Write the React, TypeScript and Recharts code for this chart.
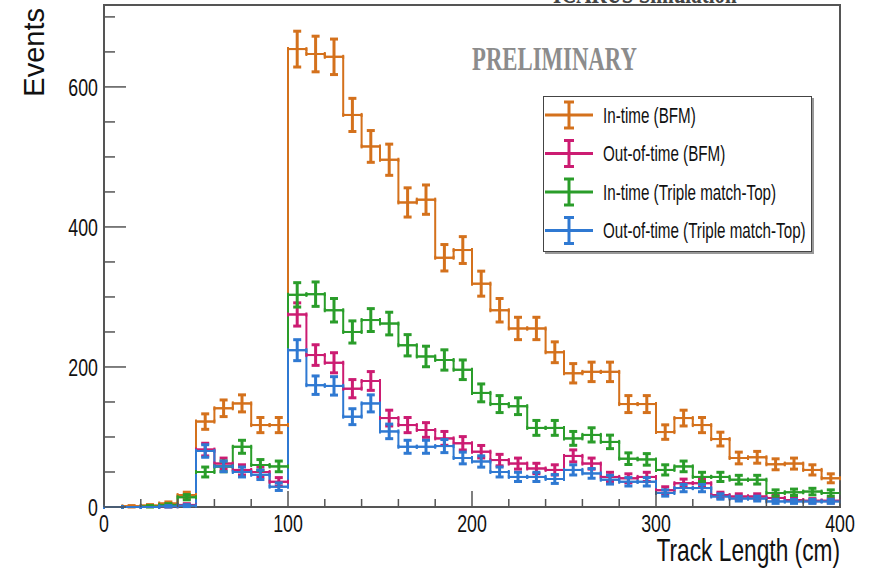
import React from 'react';
import { ComposedChart, Line, Scatter, ErrorBar, XAxis, YAxis, Legend, ReferenceArea } from 'recharts';

// ---- data (bins of 10 cm) ----
const binLowEdges = [0, 10, 20, 30, 40, 50, 60, 70, 80, 90, 100, 110, 120, 130, 140, 150, 160, 170, 180, 190, 200, 210, 220, 230, 240, 250, 260, 270, 280, 290, 300, 310, 320, 330, 340, 350, 360, 370, 380, 390];
const BIN_WIDTH = 10;

const inTimeBFM = [0, 1, 2, 5, 17, 122, 141, 148, 117, 117, 654, 647, 643, 560, 515, 496, 435, 439, 356, 367, 319, 281, 255, 255, 221, 191, 193, 193, 147, 147, 107, 127, 117, 97, 70, 71, 61, 62, 53, 41];
const outOfTimeBFM = [0, 0, 0, 1, 3, 82, 62, 53, 50, 36, 275, 217, 206, 169, 180, 127, 117, 110, 98, 91, 79, 67, 62, 55, 53, 73, 62, 43, 41, 43, 24, 34, 34, 17, 15, 15, 13, 10, 9, 9];
const inTimeTriple = [0, 0, 1, 3, 14, 50, 58, 86, 60, 58, 303, 304, 281, 250, 267, 262, 231, 215, 210, 196, 163, 147, 144, 113, 113, 98, 103, 93, 69, 68, 53, 58, 43, 43, 39, 39, 20, 21, 22, 20];
const outOfTimeTriple = [0, 0, 0, 1, 2, 80, 58, 50, 46, 29, 224, 174, 173, 129, 148, 108, 86, 86, 87, 70, 65, 50, 43, 43, 40, 53, 48, 39, 36, 36, 20, 27, 27, 15, 12, 12, 8, 8, 8, 8];

const seriesNames = ['In-time (BFM)', 'Out-of-time (BFM)', 'In-time (Triple match-Top)', 'Out-of-time (Triple match-Top)'];
const seriesValues = [inTimeBFM, outOfTimeBFM, inTimeTriple, outOfTimeTriple];
const seriesColors = ['#d4711c', '#cc1c72', '#2a9d2a', '#2f79d2'];

const xTicks = [0, 20, 40, 60, 80, 100, 120, 140, 160, 180, 200, 220, 240, 260, 280, 300, 320, 340, 360, 380, 400];
const xTickLabels = [0, 100, 200, 300, 400];
const yTicks = [0, 50, 100, 150, 200, 250, 300, 350, 400, 450, 500, 550, 600, 650, 700];
const yTickLabels = [0, 200, 400, 600];
const X_DOMAIN = [0, 400];
const Y_DOMAIN = [0, 717];

const xTitle = 'Track Length (cm)';
const yTitle = 'Events';
const watermark = 'PRELIMINARY';
const topText = 'ICARUS Simulation';

// ---- layout ----
const W = 871;
const H = 571;
const PLOT_LEFT = 104;
const PLOT_RIGHT = 840;
const PLOT_TOP = 5;
const PLOT_BOTTOM = 507;
const FRAME = '#555';
const FONT = "'Liberation Sans', Arial, Helvetica, sans-serif";

const stepData = (vals: number[]) => [
  ...binLowEdges.map((x, i) => ({ x, y: vals[i] })),
  { x: binLowEdges[binLowEdges.length - 1] + BIN_WIDTH, y: vals[vals.length - 1] },
];
const pointData = (vals: number[]) =>
  binLowEdges.map((x, i) => ({ x: x + BIN_WIDTH / 2, y: vals[i], ex: BIN_WIDTH / 2, ey: Math.sqrt(vals[i]) }));

const YTick = (props: any) => {
  const { y, payload } = props;
  const v = payload.value;
  const major = yTickLabels.includes(v);
  return (
    <g>
      <line x1={PLOT_LEFT} x2={PLOT_LEFT + (major ? 22 : 11)} y1={y} y2={y} stroke={FRAME} strokeWidth={1.5} />
      {major && (
        <text
          transform={`translate(98, ${y}) scale(0.74, 1)`}
          dy="0.36em"
          textAnchor="end"
          fontFamily={FONT}
          fontSize={24}
          fill="#111"
        >
          {v}
        </text>
      )}
    </g>
  );
};

const XTick = (props: any) => {
  const { x, payload } = props;
  const v = payload.value;
  const major = xTickLabels.includes(v);
  return (
    <g>
      <line x1={x} x2={x} y1={PLOT_BOTTOM} y2={PLOT_BOTTOM - (major ? 16 : 8)} stroke={FRAME} strokeWidth={1.5} />
      {major && (
        <text
          transform={`translate(${x}, 523) scale(0.74, 1)`}
          dy="0.36em"
          textAnchor="middle"
          fontFamily={FONT}
          fontSize={24}
          fill="#111"
        >
          {v}
        </text>
      )}
    </g>
  );
};

const LegendBox = () => (
  <div
    style={{
      width: 269,
      height: 156,
      border: '1.5px solid #444',
      boxShadow: '2px 2px 0 #999',
      background: '#fff',
      boxSizing: 'border-box',
    }}
  >
    <svg width={266} height={153} style={{ display: 'block' }}>
      {seriesNames.map((name, i) => {
        const cy = 18 + i * 38.5;
        const c = seriesColors[i];
        return (
          <g key={name}>
            <line x1={1} x2={49} y1={cy} y2={cy} stroke={c} strokeWidth={3} />
            <line x1={25} x2={25} y1={cy - 13} y2={cy + 13} stroke={c} strokeWidth={3} />
            <line x1={20} x2={30} y1={cy - 13} y2={cy - 13} stroke={c} strokeWidth={3} />
            <line x1={20} x2={30} y1={cy + 13} y2={cy + 13} stroke={c} strokeWidth={3} />
            <text
              transform={`translate(59, ${cy}) scale(0.69, 1)`}
              dy="0.36em"
              fontFamily={FONT}
              fontSize={22}
              fill="#111"
            >
              {name}
            </text>
          </g>
        );
      })}
    </svg>
  </div>
);

export default function App() {
  return (
    <div style={{ position: 'absolute', left: 0, top: 0, width: W, height: H, background: '#fff' }}>
      <ComposedChart
        width={W}
        height={H}
        margin={{ top: PLOT_TOP, right: W - PLOT_RIGHT, bottom: 0, left: 0 }}
      >
        <XAxis
          type="number"
          dataKey="x"
          domain={X_DOMAIN}
          ticks={xTicks}
          interval={0}
          allowDataOverflow
          axisLine={false}
          tickLine={false}
          tick={<XTick />}
          height={H - PLOT_BOTTOM}
        />
        <YAxis
          type="number"
          dataKey="y"
          domain={Y_DOMAIN}
          ticks={yTicks}
          interval={0}
          allowDataOverflow
          axisLine={false}
          tickLine={false}
          tick={<YTick />}
          width={PLOT_LEFT}
        />
        <ReferenceArea
          x1={X_DOMAIN[0]}
          x2={X_DOMAIN[1]}
          y1={Y_DOMAIN[0]}
          y2={Y_DOMAIN[1]}
          fill="none"
          stroke={FRAME}
          strokeWidth={2}
          ifOverflow="visible"
        />
        {seriesValues.map((vals, i) => (
          <Line
            key={'l' + i}
            data={stepData(vals)}
            dataKey="y"
            type="stepAfter"
            stroke={seriesColors[i]}
            strokeWidth={2}
            dot={false}
            activeDot={false}
            legendType="none"
            isAnimationActive={false}
          />
        ))}
        {seriesValues.map((vals, i) => (
          <Scatter
            key={'s' + i}
            name={seriesNames[i]}
            data={pointData(vals)}
            dataKey="y"
            fill={seriesColors[i]}
            shape={() => <g />}
            isAnimationActive={false}
          >
            <ErrorBar dataKey="ey" direction="y" width={4} stroke={seriesColors[i]} strokeWidth={3} isAnimationActive={false} />
            <ErrorBar dataKey="ex" direction="x" width={2} stroke={seriesColors[i]} strokeWidth={2} isAnimationActive={false} />
          </Scatter>
        ))}
        <Legend
          layout="vertical"
          align="center"
          verticalAlign="middle"
          content={() => <LegendBox />}
          wrapperStyle={{ left: 543, top: 96, width: 269, height: 156 }}
        />
      </ComposedChart>
      <svg
        width={W}
        height={H}
        style={{ position: 'absolute', left: 0, top: 0, pointerEvents: 'none' }}
      >
        <text
          transform={`translate(553, 3) scale(0.7, 1)`}
          fontFamily="'Liberation Serif', 'Times New Roman', serif"
          fontWeight="bold"
          fontSize={30}
          fill="#444"
        >
          {topText}
        </text>
        <text
          transform={`translate(472, 70) scale(0.69, 1)`}
          fontFamily="'Liberation Serif', 'Times New Roman', serif"
          fontWeight="bold"
          fontSize={33}
          fill="#8c8c8c"
        >
          {watermark}
        </text>
        <text
          transform={`translate(44, 8) rotate(-90)`}
          textAnchor="end"
          fontFamily={FONT}
          fontSize={29}
          fill="#111"
        >
          {yTitle}
        </text>
        <text
          transform={`translate(840, 561) scale(0.71, 1)`}
          textAnchor="end"
          fontFamily={FONT}
          fontSize={32}
          fill="#111"
        >
          {xTitle}
        </text>
      </svg>
    </div>
  );
}
